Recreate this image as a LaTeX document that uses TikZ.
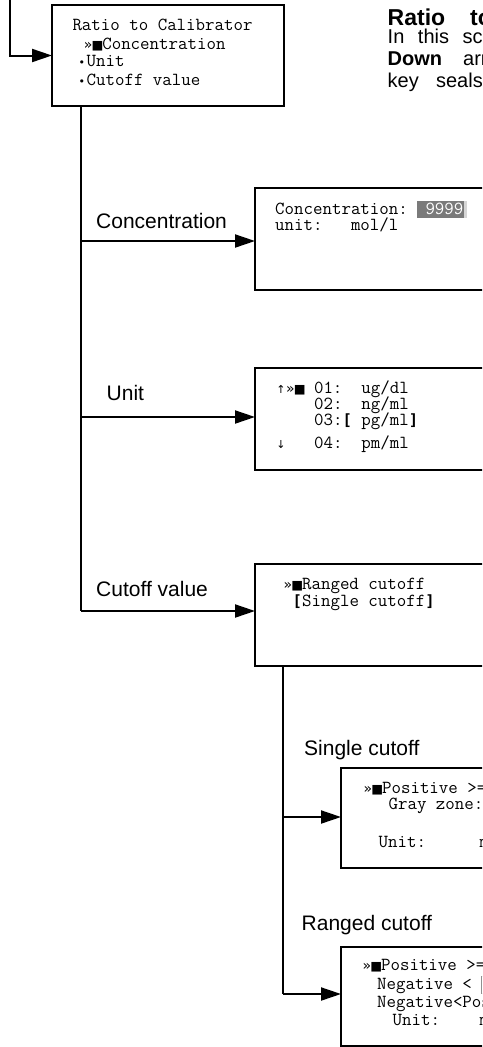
\documentclass[tikz,border=0pt]{standalone}
\usepackage{fontspec}
\setmainfont{Liberation Sans}
\newfontfamily\symf{DejaVu Sans}
\newfontfamily\brkf{DejaVu Sans Mono}
\usetikzlibrary{arrows.meta}
\definecolor{hldark}{HTML}{7A7A7A}
\definecolor{hllight}{HTML}{D6D6D6}
\definecolor{fieldgray}{HTML}{909090}
\newcommand\cellw{9.45pt}
\newcommand\symsq{\makebox[\cellw]{\symf\fontsize{12.5}{12.5}\selectfont ■}}
\newcommand\symgt{\makebox[\cellw]{\symf\fontsize{14}{14}\selectfont »}}
\newcommand\symup{\makebox[\cellw]{\symf\fontsize{11}{11}\selectfont ↑}}
\newcommand\symdn{\makebox[\cellw]{\symf\fontsize{11}{11}\selectfont ↓}}
\newcommand\symbul{\makebox[\cellw]{\symf\fontsize{11}{11}\selectfont •}}
\newcommand\bopen{\makebox[\cellw]{\brkf\bfseries\fontsize{15.5}{15.5}\selectfont [}}
\newcommand\bclose{\makebox[\cellw]{\brkf\bfseries\fontsize{15.5}{15.5}\selectfont ]}}
\tikzset{
  screen/.style={draw, line width=1.8pt, inner sep=0pt, outer sep=0pt, anchor=north west, minimum width=300pt},
  conn/.style={line width=2pt},
  arr/.style={conn, -{Triangle[length=20pt,width=13pt]}},
  lcd/.style={font=\ttfamily\fontsize{18.4}{20}\selectfont, inner sep=0pt, anchor=base west, text height=11pt, text depth=1.5pt},
  lbl/.style={font=\fontsize{21}{25}\selectfont, inner sep=0pt, anchor=base west},
  body/.style={font=\fontsize{20}{22}\selectfont, inner sep=0pt, anchor=base west, text height=14pt, text depth=3pt},
  ttl/.style={font=\fontsize{23}{26}\selectfont\bfseries, inner sep=0pt, anchor=base west, text height=15pt, text depth=2pt},
}
\begin{document}
\begin{tikzpicture}[x=1pt,y=-1pt]
\useasboundingbox (0,0) rectangle (482,1047);
\clip (0,0) rectangle (482,1047);

% heading text on the right
\node[ttl] (title) at (387.5,25) {Ratio\hspace{25pt}to Calibrator};
\node[body] (p1) at (387.5,43.5) {In\hspace{13.6pt}this\hspace{13.6pt}screen,};
\node[body] (p2) at (387.5,65.5) {\textbf{Down}\hspace{21pt}arrow};
\node[body] (p3) at (387.5,87.5) {key\hspace{17.3pt}seals};

% main menu box
\node[screen, minimum width=232pt, minimum height=101pt] (menu) at (52,5) {};
\node[lcd] (m1) at (72.3,30.7) {Ratio to Calibrator};
\node[lcd] (m2) at (83.2,49.3) {\symgt\symsq Concentration};
\node[lcd] (m3) at (77,66.7) {\symbul Unit};
\node[lcd] (m4) at (77,85) {\symbul Cutoff value};

% entry connector
\coordinate (in) at (10,-5);
\draw[arr] (in) |- (menu.west);

% sub screens
\node[screen, minimum height=102pt] (conc) at (255,188) {};
\node[screen, minimum height=102pt] (unit) at (255,368) {};
\node[screen, minimum height=102pt] (cut) at (255,564) {};
\node[screen, minimum height=100pt] (single) at (341,768) {};
\node[screen, minimum height=99pt] (ranged) at (341,947) {};

% concentration screen
\node[lcd] (c1) at (275,214.3) {Concentration:};
\fill[hldark] (416.7,200.7) rectangle (463.5,217.7);
\fill[hllight] (463.5,200.7) rectangle (467,217.7);
\node[lcd, text=white] (cval) at (425.3,214.3) {9999};
\node[lcd] (c2) at (275,230) {unit:~~~mol/l};

% unit screen
\node[lcd] (u1) at (276,393.3) {\symup\symgt\symsq~01:~~ug/dl};
\node[lcd] (u2) at (276,409.3) {~~~~02:~~ng/ml};
\node[lcd] (u3) at (276,425) {~~~~03:\bopen~pg/ml\bclose};
\node[lcd] (u4) at (276,448.3) {\symdn~~~04:~~pm/ml};

% cutoff screen
\node[lcd] (k1) at (283,589.3) {\symgt\symsq Ranged cutoff};
\node[lcd] (k2) at (283,606.7) {~\bopen Single cutoff\bclose};

% single cutoff screen
\node[lcd] (s1) at (363,793.3) {\symgt\symsq Positive >= 1.00};
\node[lcd] (s2) at (360,809) {~~~Gray zone: 0.10};
\node[lcd] (s3) at (359.5,847.3) {~~Unit:};
\node[lcd] (s4) at (479.5,847.3) {mol/l};

% ranged cutoff screen
\node[lcd] (r1) at (362,970.7) {\symgt\symsq Positive >= 1.00};
\node[lcd] (r2) at (377,989.3) {Negative <};
\draw[fieldgray, line width=0.9pt] (481,976) rectangle (530,993);
\node[lcd] (r3) at (377,1007.3) {Negative<Positive};
\node[lcd] (r4) at (392.5,1025) {Unit:};
\node[lcd] (r5) at (479.5,1025) {mol/l};

% main trunk
\coordinate (t0) at (81,106);
\coordinate (j1) at (81,241);
\coordinate (j2) at (81,417);
\coordinate (j3) at (81,611);
\draw[conn] (t0) -- (j3);
\draw[arr] (j1) -- (j1 -| conc.west);
\draw[arr] (j2) -- (j2 -| unit.west);
\draw[arr] (j3) -- (j3 -| cut.west);

% second trunk
\coordinate (v0) at (283,666);
\coordinate (v1) at (283,817);
\coordinate (v2) at (283,994);
\draw[conn] (v0) -- (v2);
\draw[arr] (v1) -- (v1 -| single.west);
\draw[arr] (v2) -- (v2 -| ranged.west);

% connector labels
\node[lbl] (l1) at (96,228.3) {Concentration};
\node[lbl] (l2) at (106.5,400.7) {Unit};
\node[lbl] (l3) at (96,596.7) {Cutoff value};
\node[lbl] (l4) at (304,755) {Single cutoff};
\node[lbl] (l5) at (301.5,930) {Ranged cutoff};
\end{tikzpicture}
\end{document}
